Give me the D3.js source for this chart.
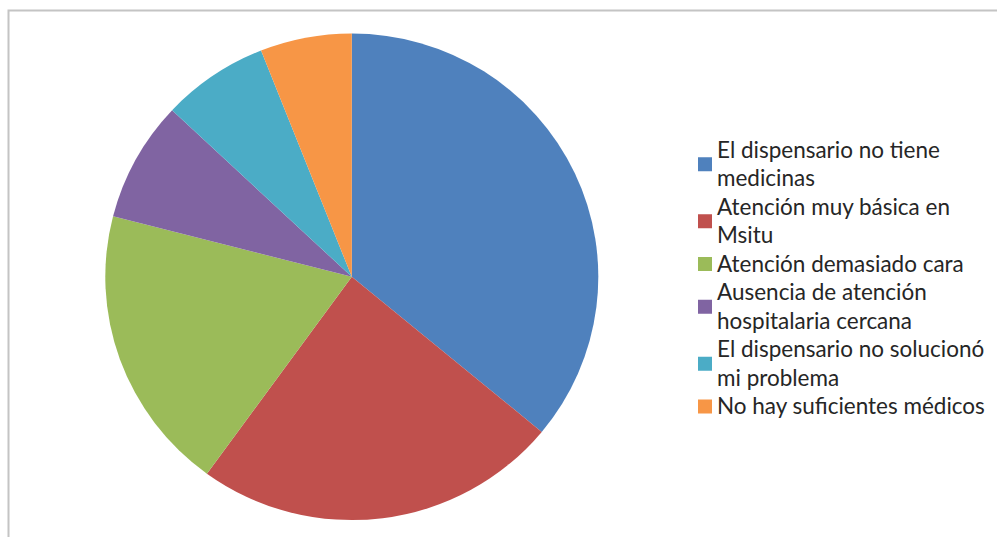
<!DOCTYPE html>
<html>
<head>
<meta charset="utf-8">
<script src="https://cdn.jsdelivr.net/npm/d3@7"></script>
<style>
  body { margin: 0; background: #fff; }
  svg { display: block; }
</style>
</head>
<body>
<div id="chart"></div>
<script>
// data (percent of answers)
const categories = [
  "El dispensario no tiene medicinas",
  "Atención muy básica en Msitu",
  "Atención demasiado cara",
  "Ausencia de atención hospitalaria cercana",
  "El dispensario no solucionó mi problema",
  "No hay suficientes médicos"
];
const values = [36, 24, 19, 8, 7, 6];
// how the legend wraps each label
const legendLines = [
  ["El dispensario no tiene", "medicinas"],
  ["Atención muy básica en", "Msitu"],
  ["Atención demasiado cara"],
  ["Ausencia de atención", "hospitalaria cercana"],
  ["El dispensario no solucionó", "mi problema"],
  ["No hay suficientes médicos"]
];
const colors = ["#4F81BD", "#C0504D", "#9BBB59", "#8064A2", "#4BACC6", "#F79646"];

const width = 997, height = 537;
const cx = 351.8, cy = 276.8, radius = 243.3;
const stretchX = 246.5 / 243.3; // the picture is a bit wider than tall

const svg = d3.select("#chart").append("svg")
  .attr("width", width)
  .attr("height", height);

// chart area border (only top and left show in the crop)
svg.append("path")
  .attr("d", "M8.5," + height + " V10.5 H" + width)
  .attr("fill", "none")
  .attr("stroke", "#c4c4c4")
  .attr("stroke-width", 2);

const pie = d3.pie().sort(null).value(d => d);
const arc = d3.arc().innerRadius(0).outerRadius(radius);

svg.append("g")
  .attr("transform", "translate(" + cx + "," + cy + ") scale(" + stretchX + ",1)")
  .selectAll("path")
  .data(pie(values))
  .enter().append("path")
  .attr("d", arc)
  .attr("fill", (d, i) => colors[i]);

// legend
const legend = svg.append("g").attr("class", "legend");
const lineH = 28.5;
let y = 150;
legendLines.forEach((lines, i) => {
  const midY = y + (lines.length - 1) * lineH / 2;
  legend.append("rect")
    .attr("x", 698)
    .attr("y", midY - 7)
    .attr("width", 14)
    .attr("height", 14)
    .attr("fill", colors[i]);
  lines.forEach((t, j) => {
    legend.append("text")
      .attr("x", 717)
      .attr("y", y + j * lineH)
      .attr("dy", "0.35em")
      .attr("font-family", "Lato, 'Open Sans', sans-serif")
      .attr("font-size", 18)
      .attr("fill", "#262626")
      .text(t);
  });
  y += lines.length * lineH;
});

// fit font size so the longest line spans like in the picture
const longest = legend.selectAll("text").filter(function () { return this.textContent === "No hay suficientes médicos"; });
const w = longest.node().getComputedTextLength();
const fs = 18 * 268 / w;
legend.selectAll("text").attr("font-size", fs);
</script>
</body>
</html>
